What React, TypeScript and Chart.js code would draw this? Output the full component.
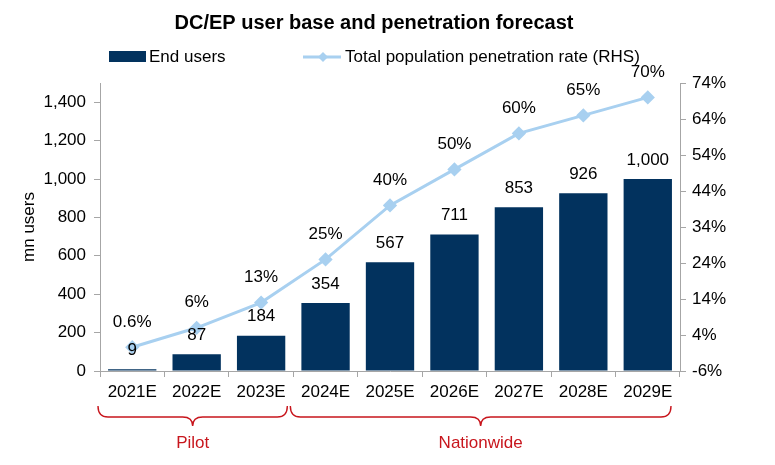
import React, { useEffect, useRef } from "react";
import { Chart, registerables } from "chart.js";

Chart.register(...registerables);

const categories = ["2021E", "2022E", "2023E", "2024E", "2025E", "2026E", "2027E", "2028E", "2029E"];
const endUsers = [9, 87, 184, 354, 567, 711, 853, 926, 1000];
const penetration = [0.6, 6, 13, 25, 40, 50, 60, 65, 70];
const penetrationLabels = ["0.6%", "6%", "13%", "25%", "40%", "50%", "60%", "65%", "70%"];
const phases = [
  { label: "Pilot", from: 0, to: 2 },
  { label: "Nationwide", from: 3, to: 8 },
];

const FONT = "'Liberation Sans', Arial, sans-serif";
const FS = 17;
const BAR_COLOR = "#02325e";
const LINE_COLOR = "#a8d0f0";
const RED = "#c8161d";
const AXIS_GRAY = "#a6a6a6";

const overlay = {
  id: "overlay",
  afterDraw(chart: any) {
    const ctx = chart.ctx;
    const x = chart.scales.x;
    ctx.save();
    // title
    ctx.fillStyle = "#000";
    ctx.font = `bold 20px ${FONT}`;
    ctx.textAlign = "center";
    ctx.textBaseline = "middle";
    ctx.fillText("DC/EP user base and penetration forecast", 374, 23);

    // legend
    ctx.fillStyle = BAR_COLOR;
    ctx.fillRect(109, 51, 37, 11);
    ctx.font = `${FS}px ${FONT}`;
    ctx.textAlign = "left";
    ctx.fillStyle = "#000";
    ctx.fillText("End users", 149, 57);
    ctx.strokeStyle = LINE_COLOR;
    ctx.lineWidth = 3;
    ctx.beginPath();
    ctx.moveTo(303, 57);
    ctx.lineTo(341, 57);
    ctx.stroke();
    ctx.fillStyle = LINE_COLOR;
    ctx.beginPath();
    ctx.moveTo(323, 52);
    ctx.lineTo(328, 57);
    ctx.lineTo(323, 62);
    ctx.lineTo(318, 57);
    ctx.closePath();
    ctx.fill();
    ctx.fillStyle = "#000";
    ctx.fillText("Total population penetration rate (RHS)", 345, 57);

    // left axis title
    ctx.save();
    ctx.translate(29, 227);
    ctx.rotate(-Math.PI / 2);
    ctx.textAlign = "center";
    ctx.fillText("mn users", 0, 0);
    ctx.restore();

    // data labels
    ctx.textAlign = "center";
    ctx.font = `${FS}px ${FONT}`;
    const barMeta = chart.getDatasetMeta(0);
    barMeta.data.forEach((el: any, i: number) => {
      ctx.fillText(endUsers[i].toLocaleString("en-US"), el.x, el.y - 19);
    });
    const lineMeta = chart.getDatasetMeta(1);
    lineMeta.data.forEach((el: any, i: number) => {
      ctx.fillText(penetrationLabels[i], el.x, el.y - 25);
    });

    // braces
    const half = (x.getPixelForValue(1) - x.getPixelForValue(0)) / 2;
    ctx.strokeStyle = RED;
    ctx.lineWidth = 1.4;
    const yTop = 406;
    const yMid = 417;
    const yTip = 426;
    phases.forEach((p, idx) => {
      const x1 = x.getPixelForValue(p.from) - half + (idx === 0 ? -2 : -3);
      const x2 = x.getPixelForValue(p.to) + half - (idx === 0 ? 6 : 9);
      const xm = (x1 + x2) / 2;
      const r = 10;
      ctx.beginPath();
      ctx.moveTo(x1, yTop);
      ctx.quadraticCurveTo(x1, yMid, x1 + r, yMid);
      ctx.lineTo(xm - r, yMid);
      ctx.quadraticCurveTo(xm, yMid, xm, yTip);
      ctx.quadraticCurveTo(xm, yMid, xm + r, yMid);
      ctx.lineTo(x2 - r, yMid);
      ctx.quadraticCurveTo(x2, yMid, x2, yTop);
      ctx.stroke();
      ctx.fillStyle = RED;
      ctx.font = `${FS}px ${FONT}`;
      ctx.fillText(p.label, xm, 443);
    });
    ctx.restore();
  },
};

export default function App() {
  const ref = useRef<HTMLCanvasElement>(null);
  useEffect(() => {
    document.body.style.margin = "0";
    const chart = new Chart(ref.current!, {
      type: "bar",
      data: {
        labels: categories,
        datasets: [
          {
            type: "bar",
            label: "End users",
            data: endUsers,
            backgroundColor: BAR_COLOR,
            yAxisID: "y",
            categoryPercentage: 1,
            barPercentage: 0.75,
            order: 2,
          },
          {
            type: "line",
            label: "Total population penetration rate (RHS)",
            data: penetration,
            borderColor: LINE_COLOR,
            backgroundColor: LINE_COLOR,
            borderWidth: 3,
            pointStyle: "rectRot",
            pointRadius: 5,
            yAxisID: "y1",
            order: 1,
          } as any,
        ],
      },
      options: {
        responsive: false,
        animation: false,
        layout: { padding: { top: 83, left: 0, right: 0, bottom: 0 } },
        plugins: { legend: { display: false }, title: { display: false }, tooltip: { enabled: false } },
        scales: {
          x: {
            grid: { offset: true, drawOnChartArea: false, drawTicks: true, tickLength: 6, color: AXIS_GRAY },
            border: { color: AXIS_GRAY },
            ticks: { color: "#000", font: { family: FONT, size: FS }, padding: 5, maxRotation: 0 },
            afterFit: (s: any) => { s.height = 465 - 371; },
          },
          y: {
            position: "left",
            min: 0,
            max: 1500,
            grid: { drawOnChartArea: false, tickLength: 6, color: AXIS_GRAY },
            border: { color: AXIS_GRAY },
            ticks: {
              stepSize: 200,
              color: "#000",
              font: { family: FONT, size: FS },
              padding: 8,
              callback: (v: any) => Number(v).toLocaleString("en-US"),
            },
            afterBuildTicks: (s: any) => { s.ticks = s.ticks.filter((t: any) => t.value <= 1400); },
            afterFit: (s: any) => { s.width = 100; },
          },
          y1: {
            position: "right",
            min: -6,
            max: 74,
            grid: { drawOnChartArea: false, tickLength: 6, color: AXIS_GRAY },
            border: { color: AXIS_GRAY },
            ticks: {
              stepSize: 10,
              color: "#000",
              font: { family: FONT, size: FS },
              padding: 6,
              callback: (v: any) => `${v}%`,
            },
            afterFit: (s: any) => { s.width = 775 - 680; },
          },
        },
      },
      plugins: [overlay],
    });
    return () => chart.destroy();
  }, []);
  return <canvas ref={ref} width={775} height={465} style={{ display: "block" }} />;
}
